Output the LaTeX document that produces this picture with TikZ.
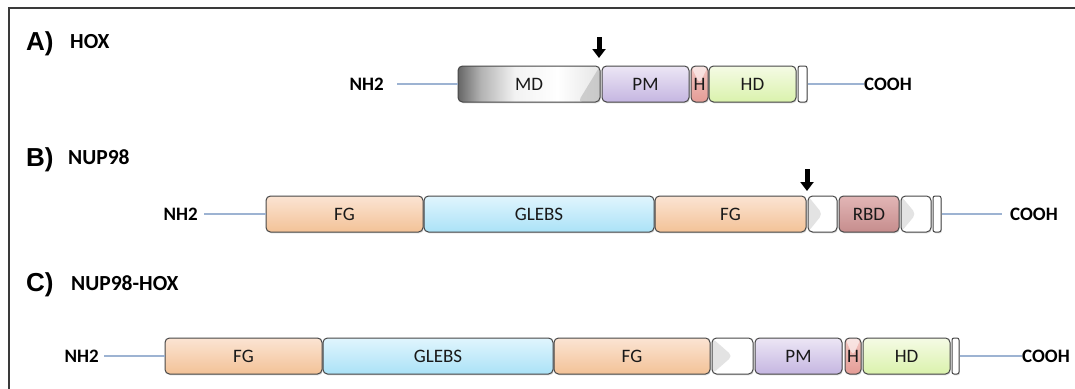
\documentclass[tikz,border=0pt]{standalone}
\usepackage{fontspec}
\setmainfont{Carlito}
\newfontfamily\arialf{Liberation Sans}
\usetikzlibrary{arrows.meta,shadows,calc}
\definecolor{fgtop}{HTML}{FBE4D3}
\definecolor{fgbot}{HTML}{F3C297}
\definecolor{gltop}{HTML}{E0F5FD}
\definecolor{glbot}{HTML}{ABE2F7}
\definecolor{pmtop}{HTML}{ECE6F5}
\definecolor{pmbot}{HTML}{C5B6E1}
\definecolor{hdtop}{HTML}{F5FBE5}
\definecolor{hdbot}{HTML}{DAF2AC}
\definecolor{htop}{HTML}{F2C6C1}
\definecolor{hbot}{HTML}{E49C96}
\definecolor{rbdtop}{HTML}{E2B6B6}
\definecolor{rbdbot}{HTML}{C68D8D}
\definecolor{connc}{HTML}{9DB3D2}
\definecolor{framec}{HTML}{3A3A3A}
\pgfdeclarehorizontalshading{mdshade}{100bp}{color(0bp)=(black!60); color(25bp)=(black!60); color(33bp)=(black!30); color(45bp)=(black!5); color(60bp)=(white); color(75bp)=(black!10); color(100bp)=(black!10)}
\newcommand\dm[6]{\node[dom,#1,minimum width={(#4-#3)*1pt}] (#2) at ({(#3+#4)/2},#5) {#6};}
\begin{document}
\begin{tikzpicture}[x=1pt,y=-1pt,
  dom/.style={draw=black!72, line width=1pt, rounded corners=4.5pt,
    minimum height=36pt, inner sep=0pt,
    font=\fontsize{19}{19}\selectfont, text=black!90,
    drop shadow={shadow xshift=0.8pt, shadow yshift=-1.3pt, opacity=0.28}},
  fg/.style={top color=fgtop, bottom color=fgbot},
  glebs/.style={top color=gltop, bottom color=glbot},
  pm/.style={top color=pmtop, bottom color=pmbot},
  hd/.style={top color=hdtop, bottom color=hdbot},
  hh/.style={top color=htop, bottom color=hbot,
    path picture={\fill[white, opacity=0.55] (path picture bounding box.north west) -- (path picture bounding box.center) -- (path picture bounding box.north east) -- cycle;}},
  rbd/.style={top color=rbdtop, bottom color=rbdbot},
  wbox/.style={fill=white,
    path picture={\fill[black!11] (path picture bounding box.north west) -- (path picture bounding box.center) -- (path picture bounding box.south west) -- cycle;}},
  endbox/.style={fill=white, rounded corners=2pt},
  md/.style={shading=mdshade,
    path picture={\fill[black!30, opacity=0.55] (path picture bounding box.north east) -- (path picture bounding box.south east) -- ([xshift=-22pt]path picture bounding box.south east) -- cycle;}},
  term/.style={inner sep=0pt, font=\bfseries\fontsize{19}{19}\selectfont},
  title/.style={inner sep=0pt, anchor=west, font=\bfseries\fontsize{21.5}{21.5}\selectfont},
  letter/.style={inner sep=0pt, anchor=west, font=\arialf\bfseries\fontsize{26}{26}\selectfont},
  conn/.style={draw=connc, line width=1.5pt},
  bigarrow/.style={line width=5pt, -{Triangle[width=13pt,length=9pt]}},
  frame/.style={draw=framec, line width=2pt}]
\useasboundingbox (0,0) rectangle (1075,388);
\draw[frame] (9,390) -- (9,8) -- (1077,8);

% ---------- A) HOX ----------
\node[letter] (la) at (26,44) {A)};
\node[title] (ta) at (70,42) {HOX};
\dm{md}{md}{458}{600}{84}{MD}
\dm{pm}{pmA}{602}{689}{84}{PM}
\dm{hh}{hA}{691}{708}{84}{H}
\dm{hd}{hdA}{709}{796}{84}{HD}
\dm{endbox}{endA}{798}{807}{84}{}
\node[term,anchor=east] (nA) at (384,84) {NH2};
\node[term,anchor=west] (cA) at (864,84) {COOH};
\draw[conn] ([xshift=13pt]nA.east) -- (md.west);
\draw[conn] (endA.east) -- (cA.west);
\coordinate (arrAs) at (599,37);
\coordinate (arrAe) at (599,58);
\draw[bigarrow] (arrAs) -- (arrAe);

% ---------- B) NUP98 ----------
\node[letter] (lb) at (26,160) {B)};
\node[title] (tb) at (68,157) {NUP98};
\dm{fg}{fg1B}{266}{423}{214}{FG}
\dm{glebs}{glB}{424}{654}{214}{GLEBS}
\dm{fg}{fg2B}{655}{806}{214}{FG}
\dm{wbox}{w1B}{808}{837}{214}{}
\dm{rbd}{rbd}{839}{899}{214}{RBD}
\dm{wbox}{w2B}{901}{931}{214}{}
\dm{endbox}{endB}{933}{941}{214}{}
\node[term,anchor=east] (nB) at (198,214) {NH2};
\node[term,anchor=west] (cB) at (1010,214) {COOH};
\draw[conn] ([xshift=6pt]nB.east) -- (fg1B.west);
\draw[conn] (endB.east) -- ([xshift=-8pt]cB.west);
\coordinate (arrBs) at (807,169);
\coordinate (arrBe) at (807,191);
\draw[bigarrow] (arrBs) -- (arrBe);

% ---------- C) NUP98-HOX ----------
\node[letter] (lc) at (26,285) {C)};
\node[title] (tc) at (71,283) {NUP98-HOX};
\dm{fg}{fg1C}{165}{322}{356}{FG}
\dm{glebs}{glC}{323}{553}{356}{GLEBS}
\dm{fg}{fg2C}{554}{710}{356}{FG}
\dm{wbox}{wC}{712}{753}{356}{}
\dm{pm}{pmC}{755}{842}{356}{PM}
\dm{hh}{hC}{845}{861}{356}{H}
\dm{hd}{hdC}{863}{950}{356}{HD}
\dm{endbox}{endC}{952}{959}{356}{}
\node[term,anchor=east] (nC) at (99,356) {NH2};
\node[term,anchor=west] (cC) at (1022,356) {COOH};
\draw[conn] ([xshift=5pt]nC.east) -- (fg1C.west);
\draw[conn] (endC.east) -- (cC.west);
\end{tikzpicture}
\end{document}
